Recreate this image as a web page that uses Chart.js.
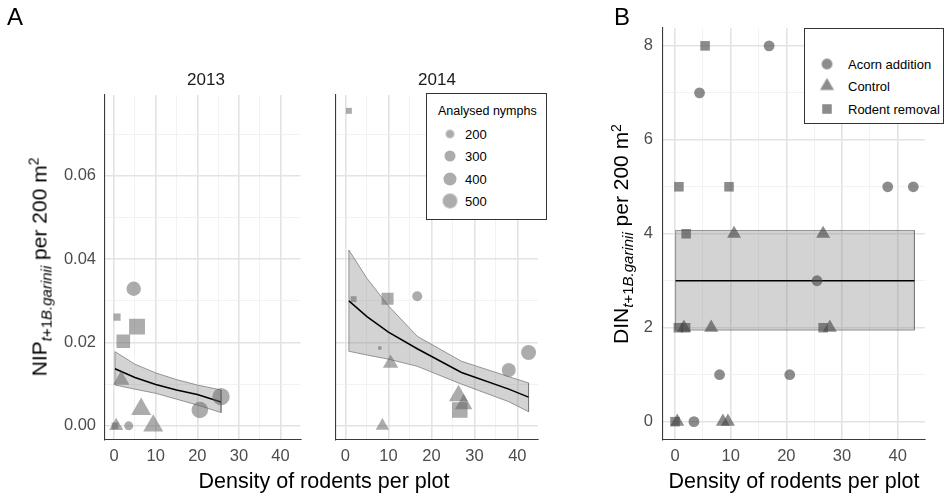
<!DOCTYPE html>
<html>
<head>
<meta charset="utf-8">
<script src="https://cdn.jsdelivr.net/npm/chart.js@4.4.1/dist/chart.umd.min.js"></script>
<style>
  html, body { margin: 0; padding: 0; background: #fff; }
  body { width: 945px; height: 497px; position: relative; overflow: hidden;
         font-family: "Liberation Sans", Arial, sans-serif; color: #000; }
  canvas { position: absolute; top: 0; }
  .t { position: absolute; white-space: nowrap; line-height: 1; }
  .ytitle { font-size: 21px; transform: translate(-50%, -50%) rotate(-90deg); }
  .ytitle sub { font-size: 15px; vertical-align: -0.35em; }
  .ytitle sup { font-size: 14px; vertical-align: 0.55em; }
  .xtitle { font-size: 21.5px; transform: translate(-50%, -50%); }
  .strip { font-size: 17px; color: #1a1a1a; transform: translate(-50%, -50%); }
  .panel { font-size: 24px; }
  .legend { position: absolute; border: 1px solid #333; background: #fff; box-sizing: border-box; }
  .legend .lab { position: absolute; font-size: 13px; transform: translateY(-50%); white-space: nowrap; }
  .legend .ttl { position: absolute; font-size: 12.5px; transform: translateY(-50%); white-space: nowrap; }
</style>
</head>
<body>
<canvas id="c2013" width="312" height="497" style="left:0"></canvas>
<canvas id="c2014" width="240" height="497" style="left:312px"></canvas>
<canvas id="cB" width="345" height="497" style="left:600px"></canvas>

<div class="t panel" style="left:7px;top:5px">A</div>
<div class="t panel" style="left:614px;top:5px">B</div>
<div class="t strip" style="left:206px;top:79px">2013</div>
<div class="t strip" style="left:437px;top:79px">2014</div>
<div class="t ytitle" style="left:40px;top:267px">NIP<sub><i>t</i>+1<i>B.garinii</i></sub> per 200 m<sup>2</sup></div>
<div class="t ytitle" style="left:622px;top:234px">DIN<sub><i>t</i>+1<i>B.garinii</i></sub> per 200 m<sup>2</sup></div>
<div class="t xtitle" style="left:324px;top:482px">Density of rodents per plot</div>
<div class="t xtitle" style="left:794px;top:482px">Density of rodents per plot</div>

<div class="legend" id="legSize" style="left:426px;top:93px;width:121px;height:127px"></div>
<div class="legend" id="legTrt" style="left:804px;top:28px;width:140px;height:96px"></div>

<script>
// ---- Panel A, 2013: one point per plot ----
const x2013      = [4.7, 0.7, 5.5, 2.2, 1.7, 6.5, 9.4, 0.5, 0.2, 3.5, 20.6, 25.7];
const nip2013    = [0.0329, 0.0261, 0.0238, 0.0203, 0.0110, 0.0040, 0, 0, 0, 0, 0.0038, 0.0070];
const trt2013    = ['A', 'R', 'R', 'R', 'C', 'C', 'C', 'C', 'R', 'A', 'A', 'A'];
const nymphs2013 = [480, 180, 720, 540, 380, 540, 540, 290, 165, 215, 620, 675];

// model fit and confidence band, 2013
const fitX2013  = [0.2, 5, 10, 15, 20, 25.7];
const fit2013   = [0.0137, 0.0116, 0.0099, 0.0086, 0.0075, 0.0057];
const hi2013    = [0.0178, 0.0148, 0.0127, 0.0111, 0.0098, 0.0086];
const lo2013    = [0.0098, 0.0088, 0.0078, 0.0064, 0.0050, 0.0032];

// ---- Panel A, 2014 ----
const x2014      = [0.8, 1.9, 9.8, 16.7, 8.0, 10.5, 42.6, 38.0, 26.3, 27.5, 26.6, 8.6];
const nip2014    = [0.0756, 0.0304, 0.0305, 0.0311, 0.0187, 0.0150, 0.0176, 0.0134, 0.0072, 0.0052, 0.0038, 0];
const trt2014    = ['R', 'R', 'R', 'A', 'A', 'C', 'A', 'A', 'C', 'C', 'R', 'C'];
const nymphs2014 = [140, 140, 430, 255, 80, 340, 515, 455, 500, 420, 690, 270];

const fitX2014  = [0.8, 5, 10, 16.7, 27, 38, 42.6];
const fit2014   = [0.0300, 0.0262, 0.0225, 0.0185, 0.0128, 0.0088, 0.0069];
const hi2014    = [0.0422, 0.0354, 0.0288, 0.0215, 0.0155, 0.0118, 0.0103];
const lo2014    = [0.0179, 0.0170, 0.0160, 0.0143, 0.0100, 0.0058, 0.0034];

// ---- Panel B: DIN per plot ----
const xB   = [5.4, 0.7, 9.7, 2.0, 0.6, 1.9, 26.6, 0.0,
              16.9, 4.4, 38.2, 42.8, 25.5, 8.0, 20.6, 3.4,
              10.6, 26.6, 1.6, 6.5, 27.8, 0.4, 8.6, 9.5];
const dinB = [8, 5, 5, 4, 2, 2, 2, 0,
              8, 7, 5, 5, 3, 1, 1, 0,
              4, 4, 2, 2, 2, 0, 0, 0];
const trtB = ['R', 'R', 'R', 'R', 'R', 'R', 'R', 'R',
              'A', 'A', 'A', 'A', 'A', 'A', 'A', 'A',
              'C', 'C', 'C', 'C', 'C', 'C', 'C', 'C'];
const fitXB = [0.1, 43];
const fitB  = [3, 3];
const hiB   = [4.07, 4.07];
const loB   = [1.95, 1.95];

// tick positions
const xTicks   = [0, 5, 10, 15, 20, 25, 30, 35, 40];
const yTicksA  = [0, 0.01, 0.02, 0.03, 0.04, 0.05, 0.06, 0.07];
const yTicksB  = [0, 1, 2, 3, 4, 5, 6, 7, 8];
const legendSizes = [200, 300, 400, 500];
const treatmentNames = { A: 'Acorn addition', C: 'Control', R: 'Rodent removal' };

// ---- helpers ----
const FONT = '"Liberation Sans", Arial, sans-serif';
const shapeOf = { A: 'circle', C: 'triangle', R: 'rect' };
const shapeScale = { A: 1, C: 1.5, R: 1.25 };   // equal-area glyphs
function sizeRadius(n) { return Math.sqrt(Math.max(0.12 * n - 5.5, 1)); }

function points(xs, ys) { return xs.map((x, i) => ({ x: x, y: ys[i] })); }
function bandPolygon(xs, hi, lo) {
  const up = xs.map((x, i) => ({ x: x, y: hi[i] }));
  const dn = xs.map((x, i) => ({ x: x, y: lo[i] })).reverse();
  return up.concat(dn, [up[0]]);
}

function grid(isMajor) {
  return {
    drawTicks: false,
    lineWidth: c => (c.tick && isMajor(c.tick.value)) ? 1.6 : 0.8,
    color: c => (c.tick && isMajor(c.tick.value)) ? '#e3e3e3' : '#efefef'
  };
}
const border = { display: true, color: '#3a3a3a', width: 1.1 };
const tickFont = { family: FONT, size: 16.5 };
const xMajor = v => Math.abs(v % 10) < 1e-9;

function makePanel(id, cfg) {
  const datasets = [
    {
      // observations
      data: points(cfg.xs, cfg.ys),
      order: 0,
      showLine: false,
      backgroundColor: cfg.pointColor,
      borderWidth: 0,
      pointStyle: c => shapeOf[cfg.trt[c.dataIndex]],
      pointRadius: c => cfg.radius(c.dataIndex) * shapeScale[cfg.trt[c.dataIndex]]
    },
    {
      // fitted mean
      data: points(cfg.fitX, cfg.fit),
      order: 1,
      showLine: true,
      borderColor: '#000',
      borderWidth: 1.5,
      pointRadius: 0,
      tension: 0
    },
    {
      // confidence band
      data: bandPolygon(cfg.fitX, cfg.hi, cfg.lo),
      order: 2,
      showLine: true,
      fill: 'shape',
      backgroundColor: 'rgba(140,140,140,0.38)',
      borderColor: 'rgba(120,120,120,0.75)',
      borderWidth: 1,
      pointRadius: 0,
      tension: 0
    }
  ];
  return new Chart(document.getElementById(id), {
    type: 'scatter',
    data: { datasets: datasets },
    options: {
      responsive: false,
      animation: false,
      events: [],
      layout: { padding: cfg.padding },
      plugins: { legend: { display: false }, tooltip: { enabled: false } },
      scales: {
        x: {
          type: 'linear', min: cfg.xMin, max: cfg.xMax,
          afterBuildTicks: s => { s.ticks = xTicks.map(v => ({ value: v })); },
          afterFit: s => { s.height = 57; },
          grid: grid(xMajor),
          border: border,
          ticks: { font: tickFont, color: '#4d4d4d', padding: 7, autoSkip: false, maxRotation: 0,
                   callback: v => xMajor(v) ? String(v) : '' }
        },
        y: {
          type: 'linear', min: cfg.yMin, max: cfg.yMax,
          afterBuildTicks: s => { s.ticks = cfg.yTicks.map(v => ({ value: v })); },
          afterFit: s => { s.width = cfg.yWidth; },
          grid: grid(cfg.yMajor),
          border: border,
          ticks: { display: cfg.yLabels, font: tickFont, color: '#4d4d4d', padding: cfg.yPad, autoSkip: false,
                   callback: v => cfg.yMajor(v) ? cfg.yFmt(v) : '' }
        }
      }
    }
  });
}

const yMajorA = v => Math.round(v * 100) % 2 === 0;
const colA = 'rgba(95,95,95,0.52)';
const colB = 'rgba(70,70,70,0.62)';

makePanel('c2013', {
  xs: x2013, ys: nip2013, trt: trt2013, radius: i => sizeRadius(nymphs2013[i]),
  fitX: fitX2013, fit: fit2013, hi: hi2013, lo: lo2013,
  xMin: -2.2, xMax: 44.8, yMin: -0.0034, yMax: 0.0794,
  yTicks: yTicksA, yMajor: yMajorA, yFmt: v => v.toFixed(2), yLabels: true,
  yWidth: 50, yPad: 9, pointColor: colA,
  padding: { left: 55, right: 5, top: 95, bottom: 0 }
});

makePanel('c2014', {
  xs: x2014, ys: nip2014, trt: trt2014, radius: i => sizeRadius(nymphs2014[i]),
  fitX: fitX2014, fit: fit2014, hi: hi2014, lo: lo2014,
  xMin: -2.2, xMax: 44.8, yMin: -0.0034, yMax: 0.0794,
  yTicks: yTicksA, yMajor: yMajorA, yFmt: v => v.toFixed(2), yLabels: false,
  yWidth: 0, yPad: 0, pointColor: colA,
  padding: { left: 24, right: 14, top: 95, bottom: 0 }
});

makePanel('cB', {
  xs: xB, ys: dinB, trt: trtB, radius: () => 5.4,
  fitX: fitXB, fit: fitB, hi: hiB, lo: loB,
  xMin: -2.16, xMax: 44.9, yMin: -0.39, yMax: 8.38,
  yTicks: yTicksB, yMajor: v => v % 2 === 0, yFmt: v => String(v), yLabels: true,
  yWidth: 50, yPad: 10, pointColor: colB,
  padding: { left: 13, right: 20, top: 28, bottom: 0 }
});

// ---- legend keys ----
function keyGlyph(shape, r, color) {
  const c = document.createElement('canvas');
  const s = Math.ceil(r * 2 + 4);
  c.width = s; c.height = s;
  c.style.position = 'absolute';
  c.style.transform = 'translate(-50%, -50%)';
  const g = c.getContext('2d');
  g.fillStyle = color;
  g.beginPath();
  if (shape === 'circle') g.arc(s / 2, s / 2, r, 0, Math.PI * 2);
  else if (shape === 'rect') { const h = r * Math.SQRT1_2; g.rect(s / 2 - h, s / 2 - h, 2 * h, 2 * h); }
  else { g.moveTo(s / 2, s / 2 - r); g.lineTo(s / 2 + r * 0.866, s / 2 + r / 2); g.lineTo(s / 2 - r * 0.866, s / 2 + r / 2); g.closePath(); }
  g.fill();
  return c;
}

const legSize = document.getElementById('legSize');
const ttl = document.createElement('div');
ttl.className = 'ttl'; ttl.textContent = 'Analysed nymphs';
ttl.style.left = '11px'; ttl.style.top = '17px';
legSize.appendChild(ttl);
legendSizes.forEach((n, i) => {
  const y = 40 + i * 22.3;
  const g = keyGlyph('circle', sizeRadius(n), colA);
  g.style.left = '23px'; g.style.top = y + 'px';
  legSize.appendChild(g);
  const l = document.createElement('div');
  l.className = 'lab'; l.textContent = String(n);
  l.style.left = '38px'; l.style.top = y + 'px';
  legSize.appendChild(l);
});

const legTrt = document.getElementById('legTrt');
['A', 'C', 'R'].forEach((k, i) => {
  const y = 35 + i * 22.3;
  const g = keyGlyph(shapeOf[k], 5.4 * shapeScale[k], colB);
  g.style.left = '22px'; g.style.top = y + 'px';
  legTrt.appendChild(g);
  const l = document.createElement('div');
  l.className = 'lab'; l.textContent = treatmentNames[k];
  l.style.left = '43px'; l.style.top = y + 'px';
  legTrt.appendChild(l);
});
</script>
</body>
</html>
